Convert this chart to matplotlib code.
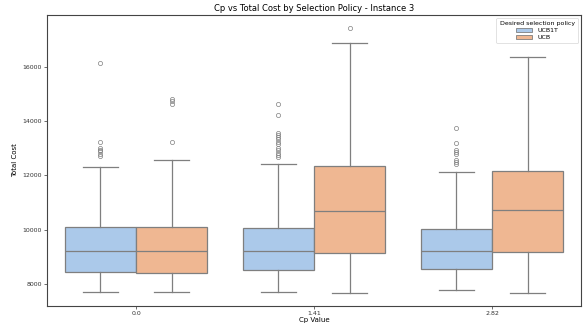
import matplotlib
matplotlib.use('Agg')
import matplotlib.pyplot as plt
from matplotlib.patches import Patch
import seaborn as sns

# box summaries, one per (Cp value, policy)
cp_values = ['0.0', '1.41', '2.82']
policies = ['UCB1T', 'UCB']

ucb1t_whislo = [7700, 7700, 7790]
ucb1t_q1 = [8430, 8500, 8540]
ucb1t_med = [9210, 9200, 9200]
ucb1t_q3 = [10090, 10050, 10015]
ucb1t_whishi = [12300, 12410, 12120]
ucb1t_fliers = [
    [16150, 13210, 13020, 12950, 12880, 12800, 12700],
    [14640, 14210, 13570, 13480, 13400, 13330, 13220, 13140, 13000, 12920, 12840, 12760, 12690],
    [13740, 13200, 12940, 12860, 12770, 12560, 12480, 12400],
]

ucb_whislo = [7700, 7670, 7660]
ucb_q1 = [8390, 9150, 9170]
ucb_med = [9210, 10680, 10710]
ucb_q3 = [10090, 12340, 12170]
ucb_whishi = [12560, 16860, 16360]
ucb_fliers = [
    [14800, 14720, 14640, 13210],
    [17430],
    [],
]

pal = sns.color_palette('pastel')
colors = [sns.desaturate(pal[0], 0.75), sns.desaturate(pal[1], 0.75)]
gray = '#7f7f7f'

fig = plt.figure(figsize=(5.88, 3.24), dpi=100)
ax = fig.add_axes([0.08, 0.056, 0.908, 0.898])

groups = [
    (ucb1t_whislo, ucb1t_q1, ucb1t_med, ucb1t_q3, ucb1t_whishi, ucb1t_fliers),
    (ucb_whislo, ucb_q1, ucb_med, ucb_q3, ucb_whishi, ucb_fliers),
]
offsets = [-0.2, 0.2]

for k, (lo, q1, med, q3, hi, fl) in enumerate(groups):
    stats = []
    for i in range(len(cp_values)):
        stats.append({'whislo': lo[i], 'q1': q1[i], 'med': med[i],
                      'q3': q3[i], 'whishi': hi[i], 'fliers': fl[i]})
    pos = [i + offsets[k] for i in range(len(cp_values))]
    ax.bxp(stats, positions=pos, widths=0.4, patch_artist=True,
           manage_ticks=False,
           boxprops=dict(facecolor=colors[k], edgecolor=gray, linewidth=0.9),
           medianprops=dict(color=gray, linewidth=0.9),
           whiskerprops=dict(color=gray, linewidth=0.9),
           capprops=dict(color=gray, linewidth=0.9),
           flierprops=dict(marker='o', markerfacecolor='none',
                           markeredgecolor=gray, markersize=3, markeredgewidth=0.5))

ax.set_xlim(-0.5, 2.5)
ax.set_ylim(7190, 17910)
ax.set_xticks(range(len(cp_values)))
ax.set_xticklabels(cp_values)
ax.set_yticks([8000, 10000, 12000, 14000, 16000])
ax.tick_params(labelsize=4.5, length=2, width=0.5, pad=1.5, colors='#333333')
for s in ax.spines.values():
    s.set_linewidth(0.8)
    s.set_color('#444444')

ax.set_xlabel('Cp Value', fontsize=5, labelpad=1)
ax.set_ylabel('Total Cost', fontsize=5, labelpad=3)
ax.set_title('Cp vs Total Cost by Selection Policy - Instance 3', fontsize=6, pad=3)

handles = [Patch(facecolor=colors[k], edgecolor=gray, linewidth=0.6, label=policies[k])
           for k in range(2)]
leg = ax.legend(handles=handles, title='Desired selection policy', loc='upper right',
                fontsize=4.5, title_fontsize=4.5, frameon=True, framealpha=0.8,
                handlelength=2.5, handleheight=0.6, borderpad=0.5, labelspacing=0.3)
leg.get_frame().set_linewidth(0.5)

fig.savefig('out.png', dpi=100)
plt.close(fig)
